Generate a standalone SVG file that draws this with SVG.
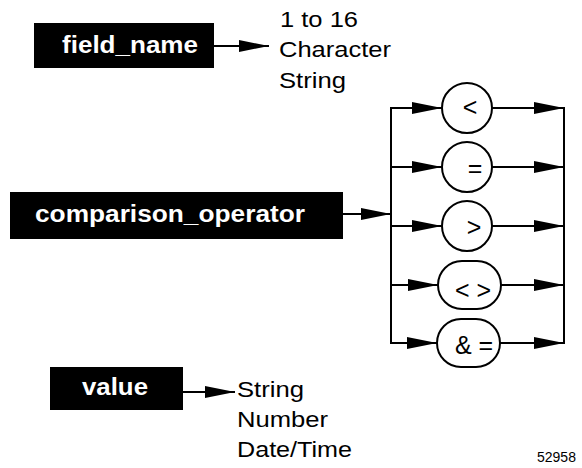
<svg xmlns="http://www.w3.org/2000/svg" width="582" height="468" viewBox="0 0 582 468">
<style>
.box{fill:#000}
.lbl{font-family:"Liberation Sans",Arial,sans-serif;font-weight:bold;font-size:23px;fill:#fff}
.txt{font-family:"Liberation Sans",Arial,sans-serif;font-size:22px;fill:#000}
.op{font-family:"Liberation Sans",Arial,sans-serif;font-size:25px;fill:#000;text-anchor:middle}
.ln{stroke:#000;stroke-width:2;fill:none}
.sh{stroke:#000;stroke-width:2;fill:#fff}
.id{font-family:"Liberation Sans",Arial,sans-serif;font-size:14px;fill:#000}
</style>
<defs>
<marker id="ah" markerUnits="userSpaceOnUse" markerWidth="32" markerHeight="14" refX="30" refY="7" orient="auto">
<polygon points="0,1 30,7 0,13" fill="#000"/>
</marker>
</defs>
<g id="field_name">
<rect class="box" x="34" y="23" width="180" height="45"/>
<text class="lbl" x="62" y="53" textLength="136" lengthAdjust="spacingAndGlyphs">field_name</text>
</g>
<g id="field_desc">
<text class="txt" x="280" y="27" textLength="78" lengthAdjust="spacingAndGlyphs">1 to 16</text>
<text class="txt" x="279" y="57" textLength="112" lengthAdjust="spacingAndGlyphs">Character</text>
<text class="txt" x="279" y="88" textLength="67" lengthAdjust="spacingAndGlyphs">String</text>
</g>
<g id="comparison_operator">
<rect class="box" x="10" y="192" width="333" height="47"/>
<text class="lbl" x="35" y="222" textLength="270" lengthAdjust="spacingAndGlyphs">comparison_operator</text>
</g>
<g id="op_lt"><circle class="sh" cx="467" cy="108" r="25"/><text class="op" x="470" y="116">&lt;</text></g>
<g id="op_eq"><circle class="sh" cx="467" cy="167" r="25"/><text class="op" x="475" y="177">=</text></g>
<g id="op_gt"><circle class="sh" cx="467" cy="226" r="25"/><text class="op" x="474" y="236">&gt;</text></g>
<g id="op_ne"><rect class="sh" x="438" y="261" width="63" height="48" rx="24"/><text class="op" x="473" y="299">&lt; &gt;</text></g>
<g id="op_ae"><rect class="sh" x="437" y="319" width="63" height="48" rx="24"/><text class="op" x="474" y="354">&amp; =</text></g>
<g id="value">
<rect class="box" x="50" y="367" width="133" height="43"/>
<text class="lbl" x="82" y="395" textLength="66" lengthAdjust="spacingAndGlyphs">value</text>
</g>
<g id="value_desc">
<text class="txt" x="237" y="397" textLength="67" lengthAdjust="spacingAndGlyphs">String</text>
<text class="txt" x="237" y="427" textLength="91" lengthAdjust="spacingAndGlyphs">Number</text>
<text class="txt" x="237" y="457" textLength="115" lengthAdjust="spacingAndGlyphs">Date/Time</text>
</g>
<text class="id" x="537" y="462">52958</text>
<g id="connectors">
<line class="ln" x1="214" y1="46" x2="269" y2="46" marker-end="url(#ah)"/>
<line class="ln" x1="343" y1="214" x2="391" y2="214" marker-end="url(#ah)"/>
<line class="ln" x1="183" y1="392" x2="235" y2="392" marker-end="url(#ah)"/>
<line class="ln" x1="391" y1="107" x2="391" y2="344"/>
<line class="ln" x1="564" y1="107" x2="564" y2="344"/>
<line class="ln" x1="391" y1="108" x2="442" y2="108" marker-end="url(#ah)"/>
<line class="ln" x1="391" y1="167" x2="442" y2="167" marker-end="url(#ah)"/>
<line class="ln" x1="391" y1="226" x2="442" y2="226" marker-end="url(#ah)"/>
<line class="ln" x1="391" y1="285" x2="438" y2="285" marker-end="url(#ah)"/>
<line class="ln" x1="391" y1="343" x2="437" y2="343" marker-end="url(#ah)"/>
<line class="ln" x1="492" y1="108" x2="564" y2="108" marker-end="url(#ah)"/>
<line class="ln" x1="492" y1="167" x2="564" y2="167" marker-end="url(#ah)"/>
<line class="ln" x1="492" y1="226" x2="564" y2="226" marker-end="url(#ah)"/>
<line class="ln" x1="501" y1="285" x2="564" y2="285" marker-end="url(#ah)"/>
<line class="ln" x1="500" y1="343" x2="564" y2="343" marker-end="url(#ah)"/>
</g>
</svg>
